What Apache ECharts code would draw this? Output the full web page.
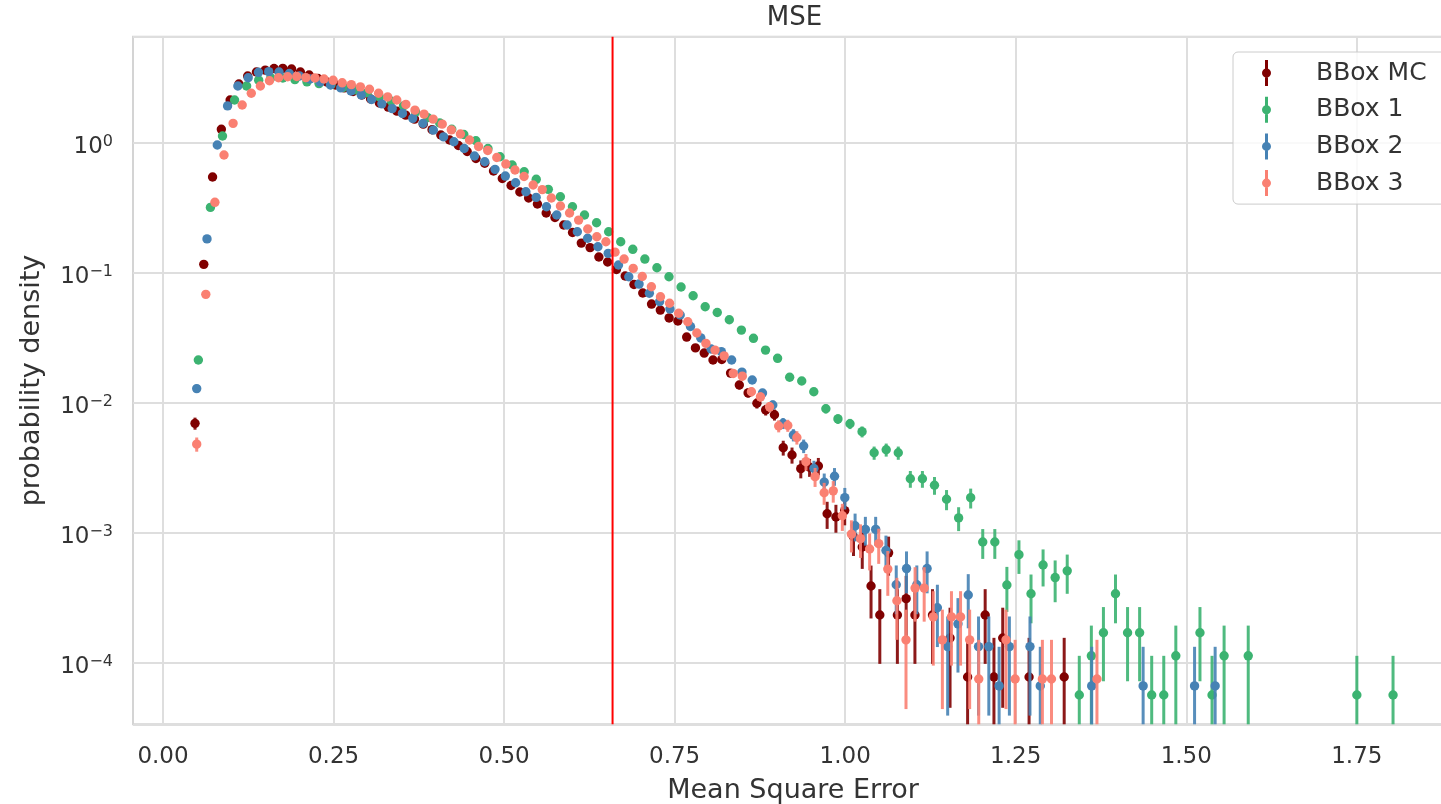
<!DOCTYPE html>
<html>
<head>
<meta charset="utf-8">
<title>MSE</title>
<script src="https://cdn.jsdelivr.net/npm/echarts@6/dist/echarts.min.js"></script>
<style>
  html, body { margin: 0; padding: 0; background: #ffffff; }
  #chart { width: 1441px; height: 804px; }
</style>
</head>
<body>
<div id="chart"></div>
<script>
// Histogram of the mean square error for four bounding-box models.
// Each model was binned into 100 equal bins over its own range;
// empty bins are null. Densities and their error bars are listed per bin.

const seriesNames = ['BBox MC', 'BBox 1', 'BBox 2', 'BBox 3'];
const seriesColors = ['#800000', '#3cb371', '#4682b4', '#fa8072'];

// first bin centre and bin width of each histogram
const binStart = [0.0469, 0.0518, 0.0494, 0.0494];
const binWidth = [0.01287, 0.01769, 0.01508, 0.01333];

const densityMC = [
  0.00694, 0.116, 0.545, 1.268, 2.13, 2.83, 3.26, 3.50, 3.62, 3.72,
  3.73, 3.69, 3.50, 3.32, 3.12, 2.93, 2.78, 2.64, 2.48, 2.33,
  2.17, 2.02, 1.88, 1.75, 1.63, 1.52, 1.39, 1.26, 1.146, 1.049,
  0.952, 0.856, 0.756, 0.696, 0.606, 0.531, 0.469, 0.418, 0.376, 0.338,
  0.288, 0.266, 0.233, 0.204, 0.169, 0.156, 0.132, 0.121, 0.106, 0.0944,
  0.0812, 0.0698, 0.0574, 0.0516, 0.0449, 0.0425, 0.032, 0.0264, 0.0241, 0.0213,
  0.0215, 0.0169, 0.0137, 0.0119, 0.0099, 0.0088, 0.00808, 0.00451, 0.00396, 0.00311,
  0.00319, 0.00326, 0.0014, 0.00132, 0.00148, 0.000932, 0.000777, 0.000389, 0.000233, 0.0007,
  0.000233, 0.000311, 0.000233, null, 0.000233, null, 0.000155, null, 0.0000777, null,
  0.000233, 0.0000777, 0.000155, null, null, 0.0000777, null, null, null, 0.0000777
];
const errorMC = [
  0.00074, 0, 0, 0, 0, 0, 0, 0, 0, 0,
  0, 0, 0, 0, 0, 0, 0, 0, 0, 0,
  0, 0, 0, 0, 0, 0, 0, 0, 0, 0,
  0, 0, 0, 0, 0, 0, 0, 0, 0, 0,
  0, 0, 0, 0, 0, 0, 0, 0, 0, 0,
  0, 0, 0, 0, 0, 0.00182, 0.00158, 0.00143, 0.00137, 0.00129,
  0.00129, 0.00115, 0.00103, 0.00096, 0.00088, 0.00083, 0.00079, 0.00059, 0.00056, 0.00049,
  0.0005, 0.0005, 0.00033, 0.00032, 0.00034, 0.00027, 0.00025, 0.00017, 0.000135, 0.000233,
  0.000135, 0.000155, 0.000135, 0, 0.000135, 0, 0.00011, 0, 0.0000777, 0,
  0.000135, 0.0000777, 0.00011, 0, 0, 0.0000777, 0, 0, 0, 0.0000777
];

const density1 = [
  0.0213, 0.318, 1.126, 2.13, 2.73, 3.03, 3.15, 3.15, 3.06, 2.94,
  2.85, 2.80, 2.66, 2.55, 2.43, 2.25, 2.09, 1.92, 1.72, 1.56,
  1.42, 1.27, 1.156, 1.036, 0.902, 0.780, 0.674, 0.598, 0.523, 0.438,
  0.384, 0.322, 0.278, 0.2425, 0.2066, 0.173, 0.1514, 0.1274, 0.1092, 0.0932,
  0.0776, 0.0665, 0.0547, 0.0494, 0.0435, 0.0362, 0.0313, 0.0254, 0.02196, 0.0157,
  0.0147, 0.01215, 0.00898, 0.00751, 0.00689, 0.00599, 0.00412, 0.00435, 0.00412, 0.0026,
  0.0026, 0.00232, 0.00181, 0.0013, 0.00186, 0.000848, 0.000848, 0.000396, 0.000678, 0.000339,
  0.000565, 0.000452, 0.000509, 0.0000565, 0.000113, 0.00017, 0.000339, 0.00017, 0.00017, 0.0000565,
  0.0000565, 0.000113, null, 0.00017, 0.0000565, 0.000113, null, 0.000113, null, null,
  null, null, null, null, null, null, 0.0000565, null, null, 0.0000565
];
const error1 = [
  0.0011, 0, 0, 0, 0, 0, 0, 0, 0, 0,
  0, 0, 0, 0, 0, 0, 0, 0, 0, 0,
  0, 0, 0, 0, 0, 0, 0, 0, 0, 0,
  0, 0, 0, 0, 0, 0, 0, 0, 0, 0,
  0.0021, 0.00194, 0.00176, 0.00167, 0.00157, 0.00143, 0.00133, 0.0012, 0.00111, 0.00094,
  0.00091, 0.00083, 0.00071, 0.00065, 0.00062, 0.00058, 0.00048, 0.0005, 0.00048, 0.000383,
  0.000383, 0.000362, 0.00032, 0.000271, 0.000324, 0.000219, 0.000219, 0.00015, 0.000196, 0.000138,
  0.000179, 0.00016, 0.00017, 0.0000565, 0.00008, 0.000098, 0.000138, 0.000098, 0.000098, 0.0000565,
  0.0000565, 0.00008, 0, 0.000098, 0.0000565, 0.00008, 0, 0.00008, 0, 0,
  0, 0, 0, 0, 0, 0, 0.0000565, 0, 0, 0.0000565
];

const density2 = [
  0.01284, 0.182, 0.96, 1.92, 2.73, 3.16, 3.48, 3.52, 3.50, 3.41,
  3.26, 3.09, 2.93, 2.78, 2.64, 2.50, 2.33, 2.15, 1.99, 1.83,
  1.68, 1.54, 1.41, 1.25, 1.11, 1.018, 0.902, 0.79, 0.714, 0.624,
  0.554, 0.492, 0.42, 0.38, 0.322, 0.278, 0.233, 0.2066, 0.184, 0.1585,
  0.141, 0.1146, 0.0932, 0.0818, 0.0695, 0.06, 0.0526, 0.0473, 0.0386, 0.0315,
  0.0259, 0.0247, 0.0213, 0.0172, 0.01496, 0.01188, 0.0096, 0.00695, 0.00565, 0.00465,
  0.00312, 0.00245, 0.00272, 0.00186, 0.00113, 0.00106, 0.00106, 0.00073, 0.000398, 0.00053,
  0.000398, 0.00053, 0.000265, 0.000133, 0.000199, 0.000332, 0.000133, 0.000133, 0.0000663, 0.000133,
  null, 0.000133, 0.0000663, null, null, null, null, 0.0000663, null, null,
  null, null, 0.0000663, null, null, null, null, 0.0000663, null, 0.0000663
];
const error2 = [
  0.00092, 0, 0, 0, 0, 0, 0, 0, 0, 0,
  0, 0, 0, 0, 0, 0, 0, 0, 0, 0,
  0, 0, 0, 0, 0, 0, 0, 0, 0, 0,
  0, 0, 0, 0, 0, 0, 0, 0, 0, 0,
  0, 0, 0, 0, 0, 0, 0, 0, 0, 0,
  0.0013, 0.00128, 0.00119, 0.00107, 0.001, 0.00089, 0.0008, 0.00068, 0.00061, 0.000555,
  0.000455, 0.000403, 0.000424, 0.000351, 0.000273, 0.000265, 0.000265, 0.00022, 0.000162, 0.000188,
  0.000162, 0.000188, 0.000133, 0.0000938, 0.000115, 0.000148, 0.0000938, 0.0000938, 0.0000663, 0.0000938,
  0, 0.0000938, 0.0000663, 0, 0, 0, 0, 0.0000663, 0, 0,
  0, 0, 0.0000663, 0, 0, 0, 0, 0.0000663, 0, 0.0000663
];

const density3 = [
  0.0048, 0.0682, 0.348, 0.804, 1.41, 1.95, 2.40, 2.73, 3.0, 3.16,
  3.22, 3.23, 3.17, 3.15, 3.09, 3.02, 2.89, 2.80, 2.69, 2.58,
  2.40, 2.25, 2.13, 1.97, 1.78, 1.66, 1.52, 1.39, 1.256, 1.167,
  1.049, 0.935, 0.871, 0.77, 0.686, 0.617, 0.55, 0.473, 0.436, 0.376,
  0.326, 0.288, 0.254, 0.217, 0.189, 0.173, 0.144, 0.1274, 0.108, 0.0935,
  0.078, 0.0653, 0.0582, 0.0488, 0.042, 0.0344, 0.0286, 0.0254, 0.0229, 0.0168,
  0.016, 0.01215, 0.0111, 0.0093, 0.00662, 0.00668, 0.0054, 0.00352, 0.0027, 0.00203,
  0.0021, 0.00135, 0.000975, 0.0009, 0.00075, 0.000825, 0.000525, 0.0003, 0.00015, 0.000375,
  0.000375, 0.000225, 0.00015, 0.000225, 0.000225, 0.00015, 0.000075, null, null, 0.00015,
  0.000075, null, null, 0.000075, 0.000075, null, null, null, null, 0.000075
];
const error3 = [
  0.0006, 0, 0, 0, 0, 0, 0, 0, 0, 0,
  0, 0, 0, 0, 0, 0, 0, 0, 0, 0,
  0, 0, 0, 0, 0, 0, 0, 0, 0, 0,
  0, 0, 0, 0, 0, 0, 0, 0, 0, 0,
  0, 0, 0, 0, 0, 0, 0, 0, 0, 0,
  0, 0, 0, 0, 0, 0, 0, 0.00138, 0.00131, 0.00112,
  0.0011, 0.00095, 0.00091, 0.00083, 0.000704, 0.000708, 0.000636, 0.000514, 0.00045, 0.00039,
  0.000397, 0.000318, 0.00027, 0.00026, 0.000237, 0.000249, 0.000198, 0.00015, 0.000106, 0.000168,
  0.000168, 0.00013, 0.000106, 0.00013, 0.00013, 0.000106, 0.000075, 0, 0, 0.000106,
  0.000075, 0, 0, 0.000075, 0.000075, 0, 0, 0, 0, 0.000075
];

const densities = [densityMC, density1, density2, density3];
const errors = [errorMC, error1, error2, error3];

// vertical reference line position
const thresholdMSE = 0.659;

// axis ranges and tick values
const X_MIN = -0.044, X_MAX = 1.891;
const Y_MIN = 3.36e-5, Y_MAX = 6.54;
const xTicks = [0, 0.25, 0.5, 0.75, 1.0, 1.25, 1.5, 1.75];

const FONT = 'DejaVu Sans';

function histogramPoints(k) {
  const pts = [];
  densities[k].forEach(function (v, i) {
    if (v !== null) pts.push([binStart[k] + i * binWidth[k], v, errors[k][i]]);
  });
  return pts;
}

function errorbarRenderer(color) {
  return function (params, api) {
    const x = api.value(0), y = api.value(1), e = api.value(2);
    const c = api.coord([x, y]);
    const children = [];
    if (e > 0) {
      const hi = api.coord([x, y + e]);
      const lo = api.coord([x, Math.max(y - e, Y_MIN)]);
      children.push({
        type: 'line',
        shape: { x1: c[0], y1: hi[1], x2: c[0], y2: lo[1] },
        style: { stroke: color, lineWidth: 3, opacity: 0.9 }
      });
    }
    children.push({
      type: 'circle',
      shape: { cx: c[0], cy: c[1], r: 4.7 },
      style: { fill: color }
    });
    return { type: 'group', children: children };
  };
}

const legendIcon = 'path://M5,0 L8,0 L8,26 L5,26 Z M2,13 A4.5,4.5 0 1,1 11,13 A4.5,4.5 0 1,1 2,13 Z';

const series = seriesNames.map(function (name, k) {
  return {
    name: name,
    type: 'custom',
    coordinateSystem: 'cartesian2d',
    data: histogramPoints(k),
    encode: { x: 0, y: 1 },
    itemStyle: { color: seriesColors[k] },
    renderItem: errorbarRenderer(seriesColors[k]),
    silent: true,
    z: 2
  };
});

series.push({
  name: 'threshold',
  type: 'line',
  data: [[thresholdMSE, Y_MIN], [thresholdMSE, Y_MAX]],
  symbol: 'none',
  lineStyle: { color: '#ff0000', width: 2 },
  silent: true,
  z: 4
});

const chart = echarts.init(document.getElementById('chart'), null, { renderer: 'canvas' });

chart.setOption({
  animation: false,
  backgroundColor: '#ffffff',
  textStyle: { fontFamily: FONT },
  title: {
    text: 'MSE',
    left: 794.5,
    textAlign: 'center',
    top: 5,
    padding: 0,
    textStyle: { fontFamily: FONT, fontSize: 26, fontWeight: 'normal', color: '#333333' }
  },
  grid: {
    left: 133,
    right: -12,
    top: 36.7,
    bottom: 79.7,
    outerBoundsMode: 'none',
    containLabel: false,
    show: true,
    borderColor: '#d4d4d4',
    borderWidth: 2,
    backgroundColor: 'transparent'
  },
  legend: {
    orient: 'vertical',
    left: 1233,
    top: 52,
    padding: [8, 26, 8, 29],
    itemGap: 10.7,
    itemWidth: 9,
    itemHeight: 26,
    backgroundColor: 'rgba(255,255,255,0.8)',
    borderColor: '#cccccc',
    borderWidth: 1,
    borderRadius: 5,
    selectedMode: false,
    textStyle: { fontFamily: FONT, fontSize: 25, color: '#333333', lineHeight: 26, padding: [0, 0, 0, 40] },
    data: seriesNames.map(function (n) { return { name: n, icon: legendIcon }; })
  },
  xAxis: {
    type: 'value',
    min: X_MIN,
    max: X_MAX,
    axisLine: { show: false },
    axisTick: { show: false, customValues: xTicks },
    axisLabel: {
      customValues: xTicks,
      formatter: function (v) { return v.toFixed(2); },
      fontFamily: FONT, fontSize: 23, color: '#333333', margin: 21
    },
    splitLine: { show: true, lineStyle: { color: '#dedede', width: 2 } },
    name: 'Mean Square Error',
    nameLocation: 'middle',
    nameGap: 53,
    nameTextStyle: { fontFamily: FONT, fontSize: 27, color: '#333333' }
  },
  yAxis: {
    type: 'log',
    logBase: 10,
    min: Y_MIN,
    max: Y_MAX,
    axisLine: { show: false },
    axisTick: { show: false },
    axisLabel: {
      showMinLabel: false,
      showMaxLabel: false,
      margin: 20,
      padding: [9, 0, 0, 0],
      formatter: function (v) {
        const n = Math.round(Math.log10(v));
        const exp = n < 0 ? '\u2212' + String(-n) : String(n);
        return '{b|10}{e|' + exp + '}';
      },
      rich: {
        b: { fontFamily: FONT, fontSize: 23, lineHeight: 26, color: '#333333' },
        e: { fontFamily: FONT, fontSize: 16, lineHeight: 16, verticalAlign: 'top', color: '#333333' }
      }
    },
    splitLine: { show: true, lineStyle: { color: '#dedede', width: 2 } },
    name: 'probability density',
    nameLocation: 'middle',
    nameRotate: 90,
    nameGap: 88,
    nameTextStyle: { fontFamily: FONT, fontSize: 27, color: '#333333' }
  },
  series: series
});
</script>
</body>
</html>
